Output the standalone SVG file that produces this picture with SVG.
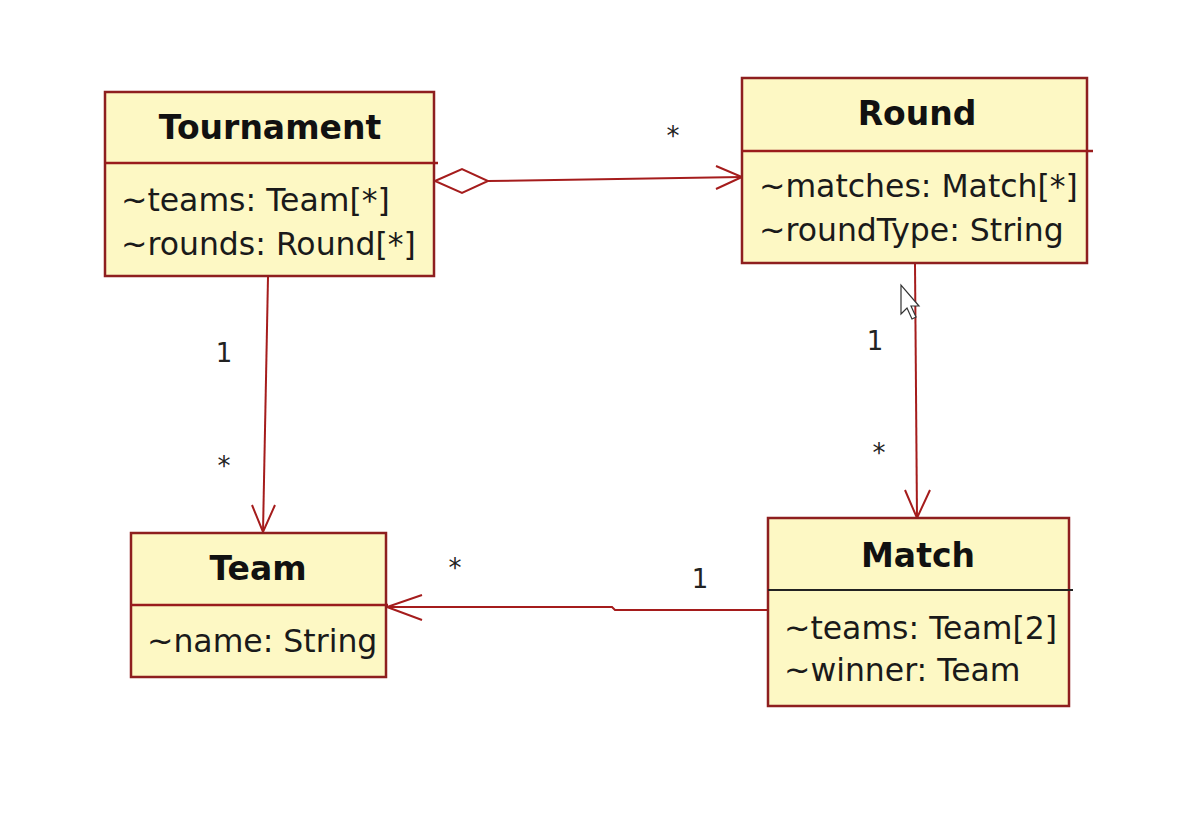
<svg xmlns="http://www.w3.org/2000/svg" width="1203" height="816" viewBox="0 0 1203 816">
<style>
.box{fill:#fdf8c4;stroke:#8e1f1f;stroke-width:2.5}
.div{stroke:#9a1c1c;stroke-width:2.5}
.title{font-family:"DejaVu Sans",sans-serif;font-weight:bold;font-size:33px;fill:#111;text-anchor:middle}
.attr{font-family:"DejaVu Sans",sans-serif;font-size:31.5px;fill:#1a1a1a}
.lbl{font-family:"DejaVu Sans",sans-serif;font-size:26px;fill:#222;text-anchor:middle}
.edge{fill:none;stroke:#a51c1c;stroke-width:2}
.head{fill:none;stroke:#a51c1c;stroke-width:2}
</style>
<rect width="1203" height="816" fill="#ffffff"/>
<g id="connectors">
  <g id="e-tournament-round">
    <polygon points="435,181 462,169 488,181 462,193" fill="#ffffff" stroke="#a51c1c" stroke-width="2"/>
    <path class="edge" d="M488,181 L742,177"/>
    <path class="head" d="M716,166 L742,177 L716,189"/>
    <text class="lbl" x="673" y="145">*</text>
  </g>
  <g id="e-tournament-team">
    <path class="edge" d="M268,277 L263,532"/>
    <path class="head" d="M252,505 L263,532 L275,505"/>
    <text class="lbl" x="224" y="362">1</text>
    <text class="lbl" x="224" y="475">*</text>
  </g>
  <g id="e-round-match">
    <path class="edge" d="M915,264 L917,518"/>
    <path class="head" d="M905,490 L917,518 L930,490"/>
    <text class="lbl" x="875" y="350">1</text>
    <text class="lbl" x="879" y="462">*</text>
  </g>
  <g id="e-match-team">
    <path class="edge" d="M768,610 L615,610 L612,607 L387,607"/>
    <path class="head" d="M422,595 L387,607 L422,620"/>
    <text class="lbl" x="455" y="577">*</text>
    <text class="lbl" x="700" y="588">1</text>
  </g>
</g>
<g id="node-tournament">
  <rect class="box" x="105" y="92" width="329" height="184"/>
  <line class="div" x1="105" y1="163" x2="438" y2="163"/>
  <text class="title" x="270" y="139">Tournament</text>
  <text class="attr" x="121" y="211">~teams: Team[*]</text>
  <text class="attr" x="121" y="255">~rounds: Round[*]</text>
</g>
<g id="node-round">
  <rect class="box" x="742" y="78" width="345" height="185"/>
  <line class="div" x1="742" y1="151" x2="1093" y2="151"/>
  <text class="title" x="917" y="125">Round</text>
  <text class="attr" x="759" y="197">~matches: Match[*]</text>
  <text class="attr" x="759" y="241">~roundType: String</text>
</g>
<g id="node-team">
  <rect class="box" x="131" y="533" width="255" height="144"/>
  <line class="div" x1="131" y1="605" x2="388" y2="605"/>
  <text class="title" x="258" y="580">Team</text>
  <text class="attr" x="147" y="652">~name: String</text>
</g>
<g id="node-match">
  <rect class="box" x="768" y="518" width="301" height="188"/>
  <line x1="768" y1="590" x2="1073" y2="590" stroke="#222" stroke-width="2"/>
  <text class="title" x="918" y="567">Match</text>
  <text class="attr" x="784" y="639">~teams: Team[2]</text>
  <text class="attr" x="784" y="681">~winner: Team</text>
</g>
<g id="cursor">
  <polygon points="901,285 901,314 907,308 912,319 916,317 911,306 919,306" fill="#ffffff" stroke="#333" stroke-width="1.2"/>
</g>
</svg>
